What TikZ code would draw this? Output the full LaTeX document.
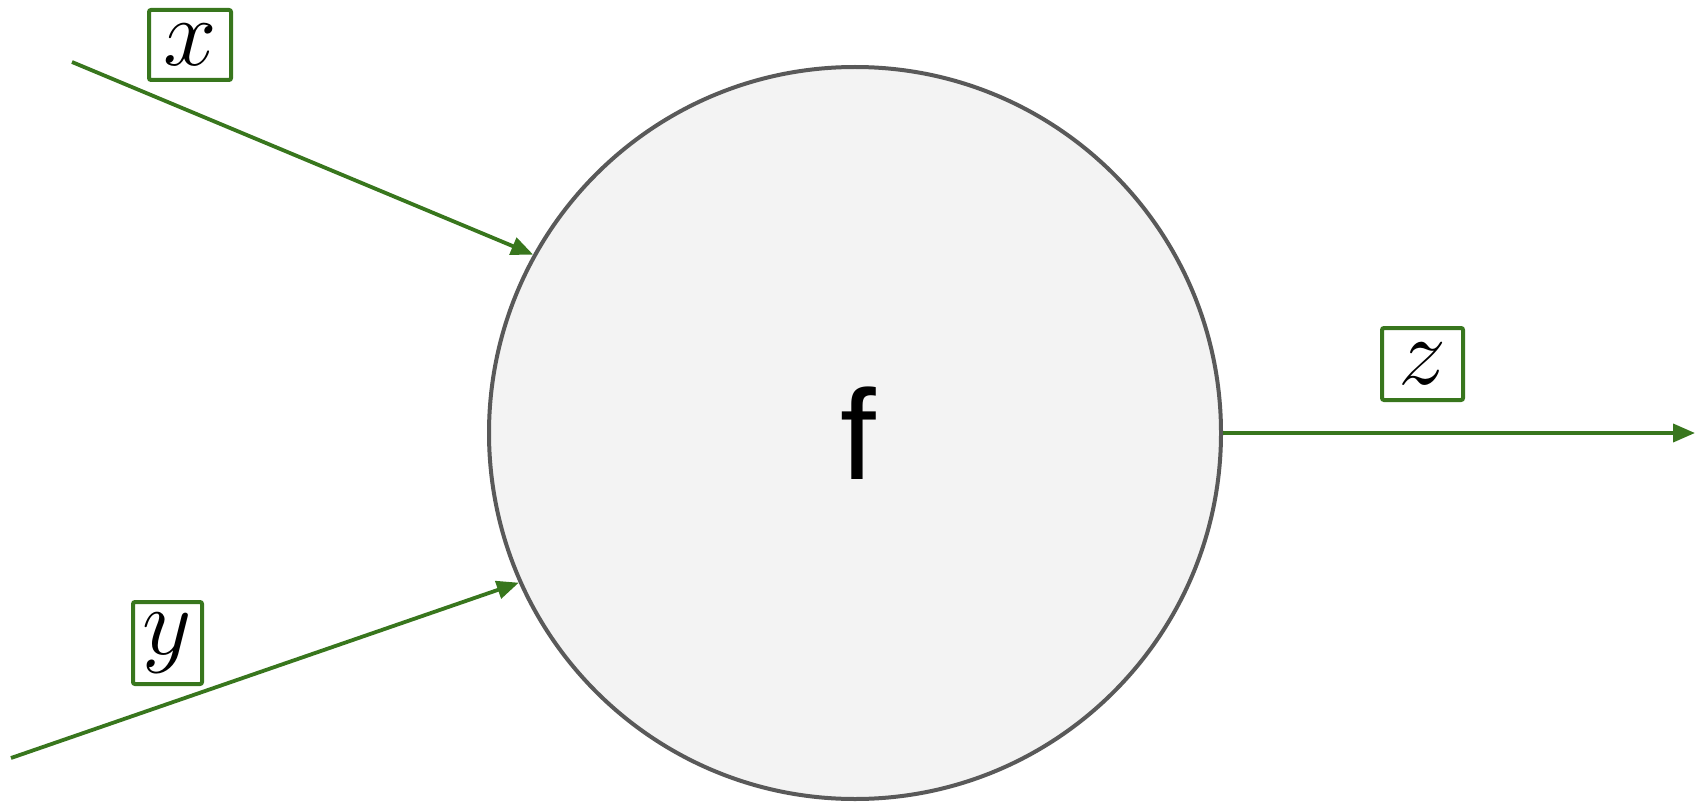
\RequirePackage{fix-cm}
\documentclass[tikz,border=0pt]{standalone}
\usepackage{fontspec}
\newfontfamily\fsans{Liberation Sans}
\usetikzlibrary{arrows.meta}
\definecolor{grn}{HTML}{38761D}
\definecolor{circfill}{HTML}{F3F3F3}
\definecolor{circline}{HTML}{595959}
\tikzset{
  lbl/.style={draw=grn, line width=2pt, fill=white, inner sep=0pt, rounded corners=1pt,
    font=\fontsize{48}{50}\selectfont},
  conn/.style={draw=grn, line width=1.9pt, -{Triangle[length=11pt,width=9pt]}},
  func/.style={circle, draw=circline, fill=circfill, line width=2pt, minimum size=366pt, inner sep=0pt}
}
\begin{document}
\begin{tikzpicture}[x=0.5pt,y=-0.5pt]
\useasboundingbox (0,0) rectangle (1696,802);
\node[func] (f) at (855,433) {};
\node[anchor=base, font=\fsans\fontsize{64}{64}\selectfont] (ftext) at (858,479) {f};
\node[lbl, minimum width=41pt, minimum height=35pt] (lx) at (190,45) {$x$};
\node[lbl, minimum width=34.5pt, minimum height=41pt] (ly) at (167.5,643) {$y$};
\node[lbl, minimum width=40.5pt, minimum height=36pt] (lz) at (1422.5,364) {$z$};
\coordinate (xs) at (72,62);
\coordinate (ys) at (11,758);
\coordinate (ze) at (1695,433);
\draw[conn] (xs) -- (f.151.4);
\draw[conn] (ys) -- (f.204.6);
\draw[conn] (f.east) -- (ze);
\end{tikzpicture}
\end{document}
